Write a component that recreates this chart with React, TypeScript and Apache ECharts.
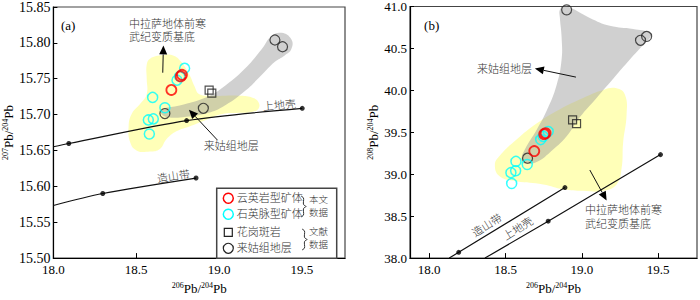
import React, { useEffect, useRef } from 'react';
import * as echarts from 'echarts';

// ---------- Tick labels ----------
const xTicksA = [18.0, 18.5, 19.0, 19.5];
const yTicksA = [15.5, 15.55, 15.6, 15.65, 15.7, 15.75, 15.8, 15.85];
const xTicksB = [18.0, 18.5, 19.0, 19.5];
const yTicksB = [38.0, 38.5, 39.0, 39.5, 40.0, 40.5, 41.0];

// ---------- Panel (a): 207Pb/204Pb vs 206Pb/204Pb ----------
const greisenA = [[18.776, 15.7555], [18.768, 15.7533], [18.712, 15.7344]]; // 云英岩型矿体
const quartzVeinA = [
  [18.792, 15.7645], [18.762, 15.7533], [18.746, 15.748], [18.599, 15.724],
  [18.673, 15.7096], [18.573, 15.6926], [18.603, 15.694], [18.579, 15.673],
]; // 石英脉型矿体
const graniteA = [[18.94, 15.734], [18.956, 15.73]]; // 花岗斑岩
const laiguA = [[18.673, 15.7015], [18.905, 15.7088], [19.337, 15.804], [19.383, 15.7946]]; // 来姑组地层
const upperCrustA = [[18.0, 15.6552], [18.093, 15.6597], [18.804, 15.6917], [19.502, 15.7088]];
const orogenA = [[18.0, 15.5733], [18.298, 15.59], [18.861, 15.6116]];
const yellowFieldA = [
  [18.583, 15.778], [18.663, 15.783], [18.722, 15.7825], [18.77, 15.774], [18.821, 15.7555],
  [18.851, 15.74], [18.881, 15.7285], [18.96, 15.7263], [19.119, 15.7263], [19.198, 15.724],
  [19.238, 15.7173], [19.238, 15.7083], [19.198, 15.7038], [19.119, 15.7025], [19.02, 15.7007],
  [18.92, 15.6926], [18.821, 15.6836], [18.742, 15.6768], [18.682, 15.6656], [18.643, 15.6521],
  [18.583, 15.6485], [18.504, 15.6498], [18.464, 15.661], [18.454, 15.6836], [18.474, 15.7015],
  [18.524, 15.715], [18.563, 15.7285], [18.563, 15.751], [18.563, 15.769],
];
const grayFieldA = [
  [18.652, 15.7007], [18.6625, 15.7079], [18.762, 15.7128], [18.92, 15.724], [19.02, 15.7375],
  [19.158, 15.7645], [19.258, 15.7915], [19.317, 15.8095], [19.377, 15.814], [19.436, 15.805],
  [19.436, 15.7915], [19.396, 15.7825], [19.337, 15.7736], [19.258, 15.7555], [19.158, 15.7331],
  [19.02, 15.7106], [18.92, 15.7015], [18.801, 15.697], [18.702, 15.6961],
];

// ---------- Panel (b): 208Pb/204Pb vs 206Pb/204Pb ----------
const greisenB = [[18.753, 39.478], [18.762, 39.489], [18.688, 39.276]];
const quartzVeinB = [
  [18.779, 39.509], [18.73, 39.413], [18.747, 39.451], [18.642, 39.116],
  [18.568, 39.153], [18.566, 39.042], [18.535, 39.019], [18.54, 38.89],
];
const graniteB = [[18.939, 39.649], [18.965, 39.604]];
const laiguB = [[18.9, 40.96], [19.384, 40.597], [19.424, 40.643], [18.644, 39.191]];
const orogenB = [[18.131, 38.0], [18.193, 38.069], [18.889, 38.841]];
const upperCrustB = [[18.365, 38.0], [18.779, 38.44], [19.515, 39.234]];
const yellowFieldB = [
  [19.227, 40.024], [19.282, 39.947], [19.293, 39.718], [19.27, 39.375], [19.26, 39.07],
  [19.227, 38.879], [19.139, 38.802], [19.008, 38.802], [18.878, 38.821], [18.747, 38.879],
  [18.572, 38.916], [18.463, 38.974], [18.43, 39.108], [18.463, 39.222], [18.572, 39.413],
  [18.703, 39.604], [18.856, 39.776], [19.008, 39.91], [19.139, 40.005],
];
const grayFieldB = [
  [18.856, 40.96], [18.889, 41.009], [19.052, 40.864], [19.183, 40.769], [19.336, 40.731],
  [19.446, 40.692], [19.456, 40.654], [19.401, 40.54], [19.314, 40.368], [19.205, 40.139],
  [19.096, 39.91], [18.987, 39.681], [18.9, 39.452], [18.79, 39.26], [18.703, 39.145],
  [18.627, 39.127], [18.605, 39.184], [18.627, 39.299], [18.703, 39.528], [18.769, 39.757],
  [18.834, 40.062], [18.867, 40.368], [18.867, 40.635], [18.856, 40.864],
];

// ---------- Annotations (data coordinates) ----------
const arrowsA = [
  { from: [18.66, 15.7584], to: [18.664, 15.7964] },
  { from: [18.99, 15.6645], to: [18.818, 15.7069] },
];
const arrowsB = [
  { from: [18.961, 40.158], to: [18.692, 40.261] },
  { from: [19.052, 39.05], to: [19.162, 38.687] },
];
const labelsA = [
  { text: '中拉萨地体前寒', at: [18.457, 15.8265], align: 'left', rot: 0 },
  { text: '武纪变质基底', at: [18.457, 15.8075], align: 'left', rot: 0 },
  { text: '来姑组地层', at: [19.073, 15.6556], align: 'center', rot: 0 },
  { text: '上地壳', at: [19.364, 15.7132], align: 'center', rot: 0.09 },
  { text: '造山带', at: [18.724, 15.614], align: 'center', rot: 0.15 },
  { text: '(a)', at: [18.089, 15.8245], align: 'center', rot: 0, serif: true },
];
const labelsB = [
  { text: '来姑组地层', at: [18.673, 40.253], align: 'right', rot: 0 },
  { text: '中拉萨地体前寒', at: [19.02, 38.572], align: 'left', rot: 0 },
  { text: '武纪变质基底', at: [19.02, 38.41], align: 'left', rot: 0 },
  { text: '造山带', at: [18.378, 38.392], align: 'center', rot: 0.56 },
  { text: '上地壳', at: [18.581, 38.354], align: 'center', rot: 0.56 },
  { text: '(b)', at: [18.016, 40.768], align: 'center', rot: 0, serif: true },
];

const SERIF = "'Liberation Serif', 'Times New Roman', serif";
const CJK = "'Liberation Serif', 'Noto Sans CJK SC', sans-serif";
const YELLOW = 'rgba(255,255,140,0.62)';
const GRAY = 'rgba(150,150,150,0.45)';
const TEXT = '#333';

const nameStyle = {
  color: '#000',
  fontFamily: SERIF,
  fontSize: 13,
  rich: {
    s: { fontSize: 8, fontFamily: SERIF, color: '#000', verticalAlign: 'top', lineHeight: 8 },
    b: { fontSize: 13, fontFamily: SERIF, color: '#000', lineHeight: 15 },
  },
};

function xAxisCfg(grid: number, min: number, max: number, ticks: number[]) {
  return {
    type: 'value', gridIndex: grid, min, max,
    name: '{s|206}{b|Pb/}{s|204}{b|Pb}', nameLocation: 'middle', nameGap: 22, nameTextStyle: nameStyle,
    axisLine: { show: true, lineStyle: { color: '#000', width: 1.2 } },
    axisTick: { show: true, inside: true, length: 5, customValues: ticks, lineStyle: { color: '#000' } },
    axisLabel: {
      customValues: ticks, margin: 5, color: '#000', fontFamily: SERIF, fontSize: 13,
      formatter: (v: number) => v.toFixed(1),
    },
    splitLine: { show: false },
  };
}
function yAxisCfg(grid: number, min: number, max: number, ticks: number[], sup: string, digits: number, fs: number, gap: number) {
  return {
    type: 'value', gridIndex: grid, min, max,
    name: `{s|${sup}}{b|Pb/}{s|204}{b|Pb}`, nameLocation: 'middle', nameGap: gap, nameTextStyle: nameStyle,
    axisLine: { show: true, lineStyle: { color: '#000', width: 1.2 } },
    axisTick: { show: true, inside: true, length: 4, customValues: ticks, lineStyle: { color: '#000' } },
    axisLabel: {
      customValues: ticks, margin: 3, color: '#000', fontFamily: SERIF, fontSize: fs,
      formatter: (v: number) => v.toFixed(digits),
    },
    splitLine: { show: false },
  };
}

function fieldSeries(gi: number, pts: number[][], fill: string, z: number) {
  return {
    type: 'custom', xAxisIndex: gi, yAxisIndex: gi, data: [pts[0]], clip: true, silent: true, z,
    renderItem: (_p: any, api: any) => ({
      type: 'polygon',
      shape: { points: pts.map((p) => api.coord(p)), smooth: 0.45 },
      style: { fill, stroke: 'none' },
    }),
  };
}
function curveSeries(gi: number, pts: number[][], smooth: number) {
  return [
    {
      type: 'line', xAxisIndex: gi, yAxisIndex: gi, data: pts, smooth, showSymbol: false, silent: true,
      lineStyle: { color: '#111', width: 1.2 }, z: 3, clip: true,
    },
    {
      type: 'scatter', xAxisIndex: gi, yAxisIndex: gi, data: pts.slice(1), symbol: 'circle', symbolSize: 5,
      itemStyle: { color: '#000' }, silent: true, z: 3,
    },
  ];
}
function pointSeries(gi: number, pts: number[][], symbol: string, size: number, color: string, bw: number, z: number) {
  return {
    type: 'scatter', xAxisIndex: gi, yAxisIndex: gi, data: pts, symbol, symbolSize: size, silent: true, z,
    itemStyle: { color: 'rgba(0,0,0,0)', borderColor: color, borderWidth: bw },
  };
}
function arrowSeries(gi: number, arrows: { from: number[]; to: number[] }[]) {
  return {
    type: 'custom', xAxisIndex: gi, yAxisIndex: gi, data: arrows.map((a) => a.from), clip: false, silent: true, z: 6,
    renderItem: (params: any, api: any) => {
      const a = arrows[params.dataIndex];
      const p0 = api.coord(a.from);
      const p1 = api.coord(a.to);
      const dx = p1[0] - p0[0];
      const dy = p1[1] - p0[1];
      const L = Math.hypot(dx, dy) || 1;
      const ux = dx / L;
      const uy = dy / L;
      const hl = 9;
      const hw = 4;
      const bx = p1[0] - ux * hl;
      const by = p1[1] - uy * hl;
      return {
        type: 'group',
        children: [
          { type: 'line', shape: { x1: p0[0], y1: p0[1], x2: bx, y2: by }, style: { stroke: '#111', lineWidth: 1 } },
          {
            type: 'polygon',
            shape: { points: [[p1[0], p1[1]], [bx - uy * hw, by + ux * hw], [bx + uy * hw, by - ux * hw]] },
            style: { fill: '#000' },
          },
        ],
      };
    },
  };
}
function labelSeries(gi: number, labels: any[]) {
  return {
    type: 'custom', xAxisIndex: gi, yAxisIndex: gi, data: labels.map((l) => l.at), clip: false, silent: true, z: 7,
    renderItem: (params: any, api: any) => {
      const l = labels[params.dataIndex];
      const p = api.coord(l.at);
      return {
        type: 'text', x: p[0], y: p[1], rotation: l.rot,
        style: {
          text: l.text, fill: l.serif ? '#000' : TEXT, align: l.align, verticalAlign: 'middle',
          fontFamily: l.serif ? SERIF : CJK, fontSize: l.serif ? 13 : 11, fontWeight: l.serif ? 'normal' : 300,
        },
      };
    },
  };
}

function legendGraphic() {
  const lx = 228.3;
  const tx = 236.7;
  const rows = [198.3, 214.3, 232.3, 248.3];
  const t = (text: string, x: number, y: number, align = 'left', fs = 11) => ({
    type: 'text', x, y, silent: true,
    style: { text, fill: TEXT, fontFamily: CJK, fontSize: fs, fontWeight: 300, align, verticalAlign: 'middle' },
  });
  const brace = (x: number, y0: number, y1: number) => {
    const m = (y0 + y1) / 2;
    return {
      type: 'polyline', silent: true,
      shape: { points: [[x - 2, y0], [x + 0.5, y0 + 2], [x + 0.5, m - 2], [x + 3, m], [x + 0.5, m + 2], [x + 0.5, y1 - 2], [x - 2, y1]], smooth: 0.3 },
      style: { stroke: '#333', lineWidth: 1, fill: 'none' },
    };
  };
  return [
    { type: 'rect', silent: true, shape: { x: 216.7, y: 188.3, width: 120, height: 70 }, style: { fill: '#fff', stroke: '#444', lineWidth: 1.5 }, z: 10 },
    { type: 'circle', silent: true, shape: { cx: lx, cy: rows[0], r: 5 }, style: { fill: 'none', stroke: '#ff0000', lineWidth: 1.5 }, z: 11 },
    { type: 'circle', silent: true, shape: { cx: lx, cy: rows[1], r: 5 }, style: { fill: 'none', stroke: '#00ffff', lineWidth: 1.5 }, z: 11 },
    { type: 'rect', silent: true, shape: { x: lx - 4, y: rows[2] - 4, width: 8, height: 8 }, style: { fill: 'none', stroke: '#222', lineWidth: 1.2 }, z: 11 },
    { type: 'circle', silent: true, shape: { cx: lx, cy: rows[3], r: 5 }, style: { fill: 'none', stroke: '#222', lineWidth: 1.2 }, z: 11 },
    { ...t('云英岩型矿体', tx, rows[0]), z: 11 },
    { ...t('石英脉型矿体', tx, rows[1]), z: 11 },
    { ...t('花岗斑岩', tx, rows[2]), z: 11 },
    { ...t('来姑组地层', tx, rows[3]), z: 11 },
    { ...brace(303, 196, 217), z: 11 },
    { ...brace(304, 229, 250), z: 11 },
    { ...t('本文', 318.5, 200.2, 'center', 9.5), z: 11 },
    { ...t('数据', 318.5, 212.8, 'center', 9.5), z: 11 },
    { ...t('文献', 318.5, 232.2, 'center', 9.5), z: 11 },
    { ...t('数据', 318.5, 244.8, 'center', 9.5), z: 11 },
  ];
}

export default function App() {
  const ref = useRef<HTMLDivElement>(null);
  useEffect(() => {
    if (!ref.current) return;
    const chart = echarts.init(ref.current, null, { renderer: 'svg' });
    const option: any = {
      animation: false,
      backgroundColor: '#fff',
      grid: [
        { left: 48, top: 5, width: 297, height: 261, show: true, borderColor: '#444', borderWidth: 1.2, backgroundColor: 'transparent' },
        { left: 410, top: 4.7, width: 287, height: 262, show: true, borderColor: '#444', borderWidth: 1.2, backgroundColor: 'transparent' },
      ],
      xAxis: [xAxisCfg(0, 18.0, 19.76, xTicksA), xAxisCfg(1, 17.874, 19.754, xTicksB)],
      yAxis: [
        yAxisCfg(0, 15.5, 15.85, yTicksA, '207', 2, 14, 34),
        yAxisCfg(1, 38.0, 41.0, yTicksB, '208', 1, 13, 29),
      ],
      series: [
        fieldSeries(0, yellowFieldA, YELLOW, 1),
        fieldSeries(0, grayFieldA, GRAY, 2),
        fieldSeries(1, yellowFieldB, YELLOW, 1),
        fieldSeries(1, grayFieldB, GRAY, 2),
        ...curveSeries(0, upperCrustA, 0.3),
        ...curveSeries(0, orogenA, 0.3),
        ...curveSeries(1, orogenB, 0),
        ...curveSeries(1, upperCrustB, 0),
        pointSeries(0, laiguA, 'circle', 10, '#222', 1.2, 4),
        pointSeries(0, graniteA, 'rect', 8, '#222', 1.2, 4),
        pointSeries(0, quartzVeinA, 'circle', 10, '#00ffff', 1.5, 4),
        pointSeries(0, greisenA, 'circle', 10, '#ff0000', 1.8, 5),
        pointSeries(1, laiguB, 'circle', 10, '#222', 1.2, 4),
        pointSeries(1, graniteB, 'rect', 8, '#222', 1.2, 4),
        pointSeries(1, quartzVeinB, 'circle', 10, '#00ffff', 1.5, 4),
        pointSeries(1, greisenB, 'circle', 10, '#ff0000', 1.8, 5),
        arrowSeries(0, arrowsA),
        arrowSeries(1, arrowsB),
        labelSeries(0, labelsA),
        labelSeries(1, labelsB),
      ],
      graphic: legendGraphic(),
    };
    chart.setOption(option);
    return () => chart.dispose();
  }, []);
  return <div ref={ref} style={{ position: 'fixed', left: 0, top: 0, width: 700, height: 300 }} />;
}
